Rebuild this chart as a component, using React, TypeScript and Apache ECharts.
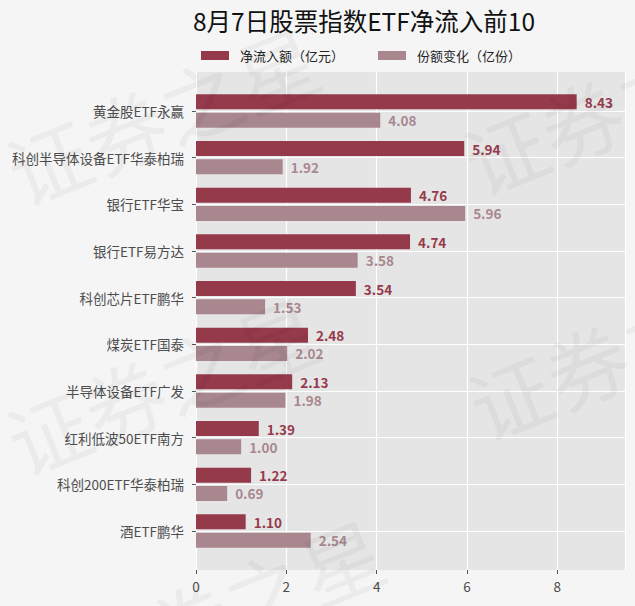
import React, { useEffect, useRef } from "react";
import * as echarts from "echarts";

const titleText = "8月7日股票指数ETF净流入前10";
const seriesNames = ["净流入额（亿元）", "份额变化（亿份）"];
const categories = [
  "黄金股ETF永赢",
  "科创半导体设备ETF华泰柏瑞",
  "银行ETF华宝",
  "银行ETF易方达",
  "科创芯片ETF鹏华",
  "煤炭ETF国泰",
  "半导体设备ETF广发",
  "红利低波50ETF南方",
  "科创200ETF华泰柏瑞",
  "酒ETF鹏华",
];
const netInflow = [8.43, 5.94, 4.76, 4.74, 3.54, 2.48, 2.13, 1.39, 1.22, 1.1];
const shareChange = [4.08, 1.92, 5.96, 3.58, 1.53, 2.02, 1.98, 1.0, 0.69, 2.54];
const xMax = 9.5;
const xInterval = 2;
const watermarkText = "证券之星";
const watermarkSpots = [
  [10, 175],
  [10, 445],
  [467, 165],
  [472, 410],
  [75, 667],
];

const FONT = '"Noto Sans CJK SC", "Noto Sans", sans-serif';
const C1 = "#953a4b";
const C2 = "#a8878f";
// legend swatch: 28x9 rect inside a 34-wide box so the text starts 11px after the swatch
const LEGEND_ICON = "path://M0,0H28V9H0Z M34,0L34,0.01";

export default function App() {
  const ref = useRef<HTMLDivElement>(null);
  useEffect(() => {
    if (!ref.current) return;
    const chart = echarts.init(ref.current, null, { renderer: "svg" });
    const panelTop = 72;
    const panelBottom = 570;
    const left = 196;
    const right = 625;
    const firstTick = 111;
    const lastTick = 531;
    const band = (lastTick - firstTick) / (categories.length - 1);
    const H = 606;
    const W = 635;
    const valueAxisBase = {
      type: "value",
      min: 0,
      max: xMax,
      interval: xInterval,
    };
    const labelStyle = (color: string) => ({
      show: true,
      position: "right",
      distance: 8,
      color,
      fontWeight: "bold",
      fontSize: 13.5,
      fontFamily: FONT,
      formatter: (p: any) => Number(p.value).toFixed(2),
    });
    chart.setOption({
      animation: false,
      backgroundColor: "#f5f5f5",
      textStyle: { fontFamily: FONT },
      title: {
        text: titleText,
        left: 193,
        top: 8,
        padding: 0,
        textStyle: { fontSize: 24.5, fontWeight: "normal", color: "#111", fontFamily: FONT },
      },
      legend: {
        left: 201,
        top: 49,
        padding: 0,
        itemWidth: 34,
        itemHeight: 9,
        itemGap: 34,
        icon: LEGEND_ICON,
        textStyle: { fontSize: 13, color: "#222", fontFamily: FONT },
        data: seriesNames,
      },
      grid: [
        {
          left,
          right: W - right,
          top: panelTop,
          bottom: H - panelBottom,
          show: true,
          backgroundColor: "#e5e5e5",
          borderWidth: 0,
          z: -1,
        },
        {
          left,
          right: W - right,
          top: firstTick - band / 2,
          bottom: H - (lastTick + band / 2),
          show: false,
        },
        {
          left,
          right: W - right,
          top: firstTick,
          bottom: H - lastTick,
          show: false,
        },
      ],
      xAxis: [
        {
          ...valueAxisBase,
          gridIndex: 0,
          axisLine: { show: false },
          axisTick: { show: true, length: 4, lineStyle: { color: "#555" } },
          axisLabel: { fontSize: 13.5, color: "#4d4d4d", margin: 9, fontFamily: FONT, showMaxLabel: false },
          splitLine: { show: true, lineStyle: { color: "#ffffff", width: 1.2 } },
        },
        { ...valueAxisBase, gridIndex: 1, show: false },
        { ...valueAxisBase, gridIndex: 2, show: false },
      ],
      yAxis: [
        { type: "category", gridIndex: 0, show: false, data: categories },
        { type: "category", gridIndex: 1, inverse: true, show: false, data: categories },
        {
          type: "category",
          gridIndex: 2,
          inverse: true,
          boundaryGap: false,
          data: categories,
          z: 1,
          axisLine: { show: false },
          axisTick: { show: true, length: 4, lineStyle: { color: "#555" } },
          axisLabel: { fontSize: 13.5, color: "#4d4d4d", margin: 12, fontFamily: FONT },
          splitLine: { show: true, lineStyle: { color: "#ffffff", width: 1.2 } },
        },
      ],
      series: [
        {
          name: seriesNames[0],
          type: "bar",
          xAxisIndex: 1,
          yAxisIndex: 1,
          data: netInflow,
          barWidth: 15,
          barGap: "22%",
          itemStyle: { color: C1 },
          label: labelStyle(C1),
          z: 3,
        },
        {
          name: seriesNames[1],
          type: "bar",
          xAxisIndex: 1,
          yAxisIndex: 1,
          data: shareChange,
          barWidth: 15,
          barGap: "22%",
          itemStyle: { color: C2 },
          label: labelStyle(C2),
          z: 3,
        },
      ],
      graphic: watermarkSpots.map(([x, y]) => ({
        type: "text",
        x,
        y,
        rotation: (22 * Math.PI) / 180,
        silent: true,
        z: 100,
        style: {
          text: watermarkText,
          fontSize: 82,
          fontFamily: FONT,
          fill: "rgba(0,0,0,0.04)",
          textAlign: "left",
          textVerticalAlign: "middle",
        },
      })),
    });
    return () => chart.dispose();
  }, []);
  return (
    <div
      ref={ref}
      style={{ position: "fixed", left: 0, top: 0, width: 635, height: 606 }}
    />
  );
}
